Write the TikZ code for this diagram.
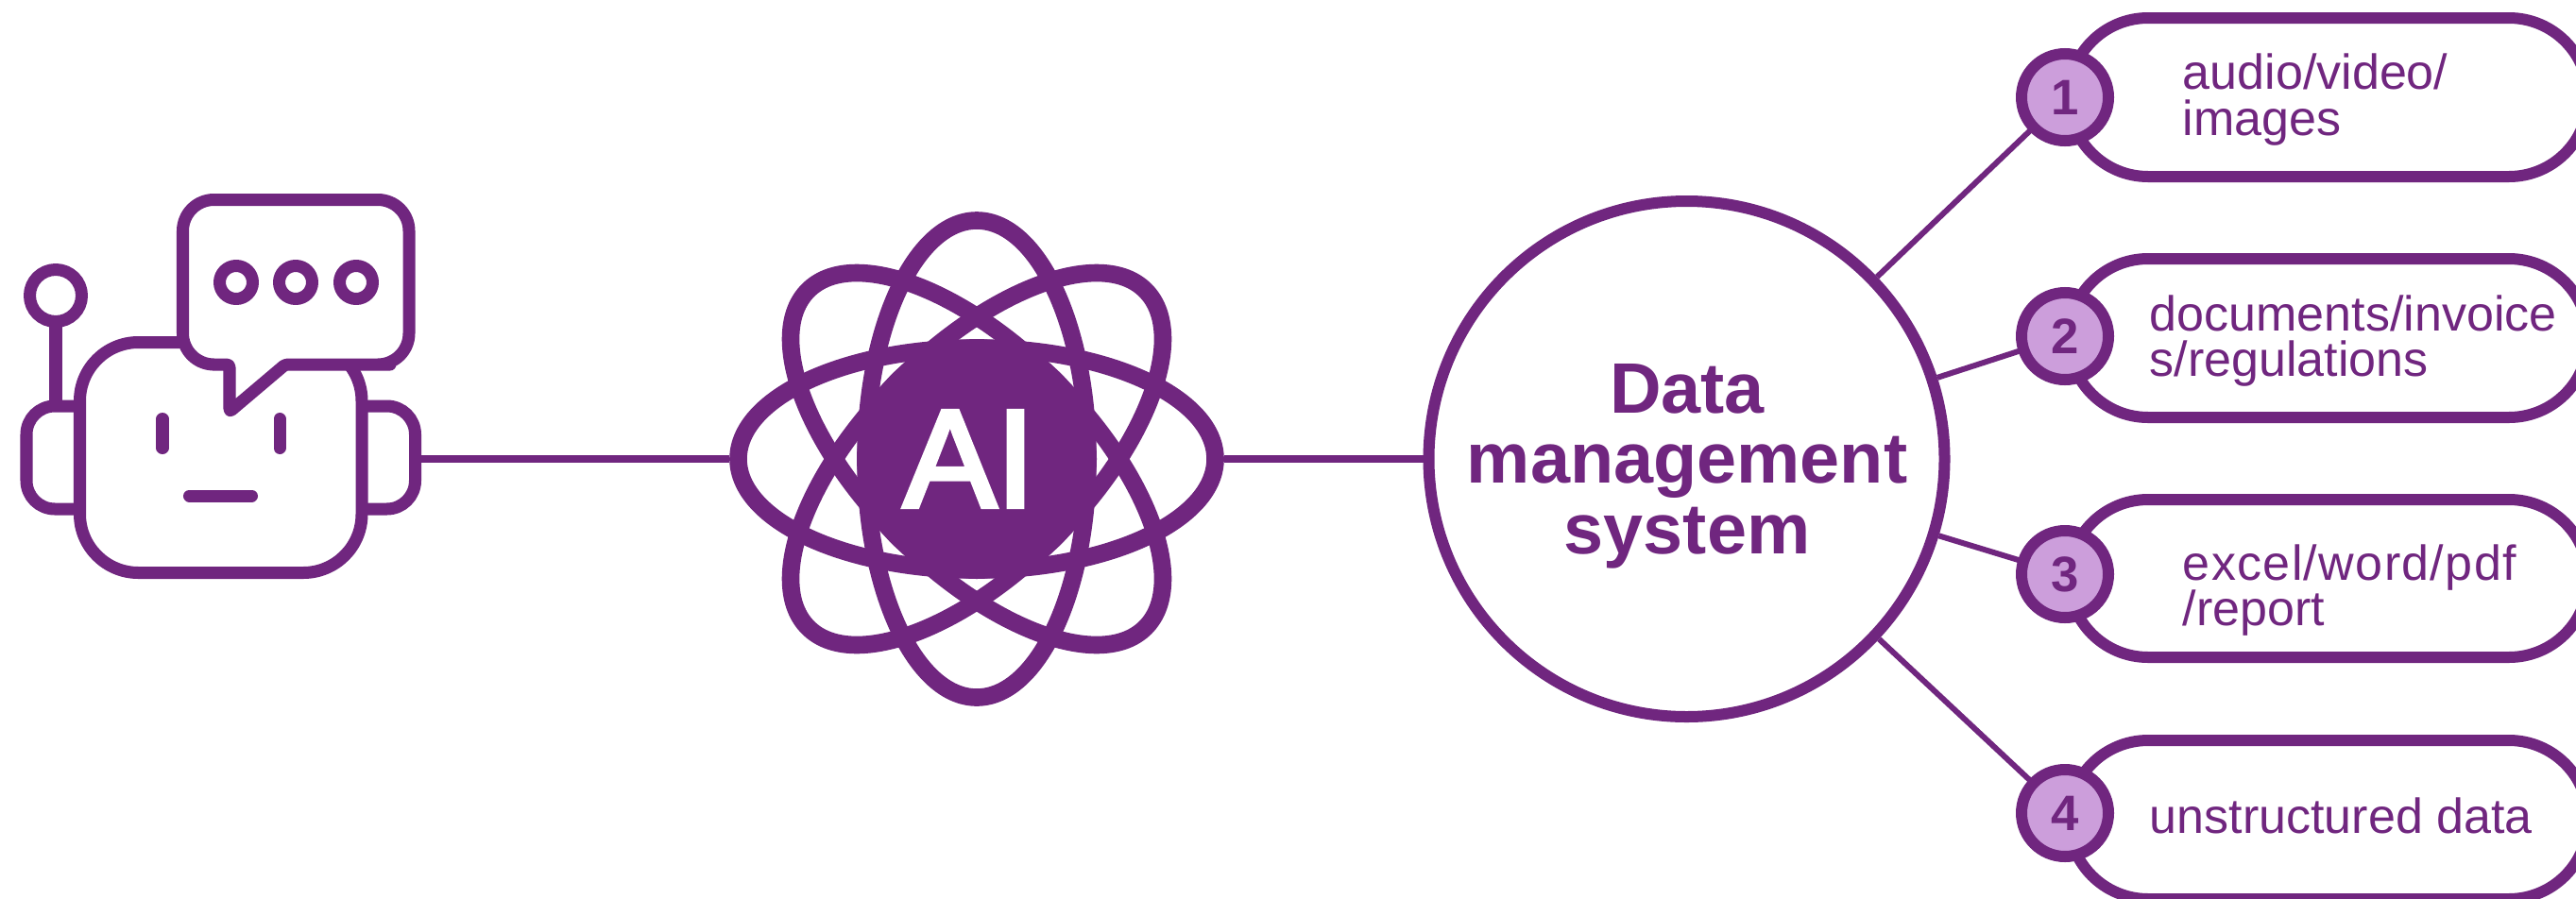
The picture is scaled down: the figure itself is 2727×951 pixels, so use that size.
\documentclass[tikz,border=0pt]{standalone}
\usepackage{fontspec}
\setmainfont{Liberation Sans}
\newfontfamily\aifont{Liberation Sans}[FakeBold=3.4]
\definecolor{vio}{HTML}{70267F}
\definecolor{lil}{HTML}{CC9EDB}
\begin{document}
\begin{tikzpicture}[x=0.01cm,y=-0.01cm,
 px/.style={line width=#1*0.2845pt},
 icon/.style={draw=vio,px=13,line join=round,line cap=round},
 orbit/.style={draw=vio,px=18.6},
 link/.style={draw=vio,px=8},
 spoke/.style={draw=vio,px=6},
 pill/.style={draw=vio,px=12,fill=white,rounded corners=84*0.01cm},
 numc/.style={circle,draw=vio,px=12,fill=lil,minimum size=92*0.01cm,inner sep=0pt,text=vio,font=\fontsize{15}{15}\selectfont\bfseries},
 ptext/.style={anchor=base west,text=vio,font=\fontsize{14.8}{14.8}\selectfont,inner sep=0pt},
 ctext/.style={anchor=base,text=vio,font=\fontsize{21.5}{21.5}\selectfont\bfseries,inner sep=0pt}]
\useasboundingbox (0,0) rectangle (2727,951);
\fill[white] (0,0) rectangle (2727,951);
% connectors
\coordinate (rob) at (446,486);
\coordinate (atomL) at (772,486);
\coordinate (atomR) at (1296,486);
\node[circle,draw=vio,px=12,fill=white,minimum size=546*0.01cm,inner sep=0pt] (dms) at (1785.5,486) {};
\draw[link] (rob)--(atomL);
\draw[link] (atomR)--(dms);
\foreach \y/\n in {103/1,356/2,608/3,861/4}{\coordinate (nc\n) at (2186,\y);}
\draw[spoke] (dms)--(nc1) (dms)--(nc2) (dms)--(nc3) (dms)--(nc4);
% robot
\draw[icon,rounded corners=30*0.01cm] (84.5,430) -- (28,430) -- (28,539) -- (84.5,539);
\draw[icon,rounded corners=30*0.01cm] (383,430) -- (439.5,430) -- (439.5,539) -- (383,539);
\draw[icon] (59,347) -- (59,428);
\draw[icon] (59,313) circle[radius=27.5];
\draw[icon,fill=white,rounded corners=62*0.01cm] (84.5,362.5) rectangle (383,606.5);
\draw[icon] (172,443.5)--(172,474.5) (296,443.5)--(296,474.5) (200.5,525)--(266.5,525);
\draw[icon,fill=white,rounded corners=33*0.01cm] (313,211.5) -- (433,211.5) -- (433,386) -- (380,386) -- (360,386) [rounded corners=3*0.01cm] -- (302,386) -- (243,436) -- (243,386) -- (235,386) -- (228,386) [rounded corners=33*0.01cm] -- (193.5,386) -- (193.5,211.5) -- cycle;
\foreach \x in {250,313,377}{\draw[icon] (\x,299) circle[radius=17.5];}
% atom
\foreach \a in {0,45,90,135}{\draw[orbit] (1034,486) ellipse[x radius=252.5,y radius=117.5,rotate=\a];}
\fill[vio] (1034,486) circle[radius=127];
\node[text=white,font=\fontsize{41.8}{41.8}\selectfont\aifont,inner sep=0pt] (ai) at (1026,486) {AI};
% label of the circle
\node[ctext] (d1) at (1786,437) {Data};
\node[ctext] (d2) at (1786,511) {management};
\node[ctext] (d3) at (1786,586) {system};
% pills
\foreach \t/\b in {19/187,274/442,529/696,784/952}{\draw[pill] (2190,\t) rectangle (2740,\b);}
\foreach \y/\n in {103/1,356/2,608/3,861/4}{\node[numc] (n\n) at (nc\n) {\n};}
\node[ptext] (t1a) at (2310,94) {audio/video/};
\node[ptext] (t1b) at (2310,143) {images};
\node[ptext] (t2a) at (2275,350) {documents/invoice};
\node[ptext] (t2b) at (2275,398) {s/regulations};
\node[ptext] (t3a) at (2310,614) {\addfontfeatures{LetterSpace=2.6}excel/word/pdf};
\node[ptext] (t3b) at (2310,662) {/report};
\node[ptext] (t4) at (2275,882) {unstructured data};
\end{tikzpicture}
\end{document}
